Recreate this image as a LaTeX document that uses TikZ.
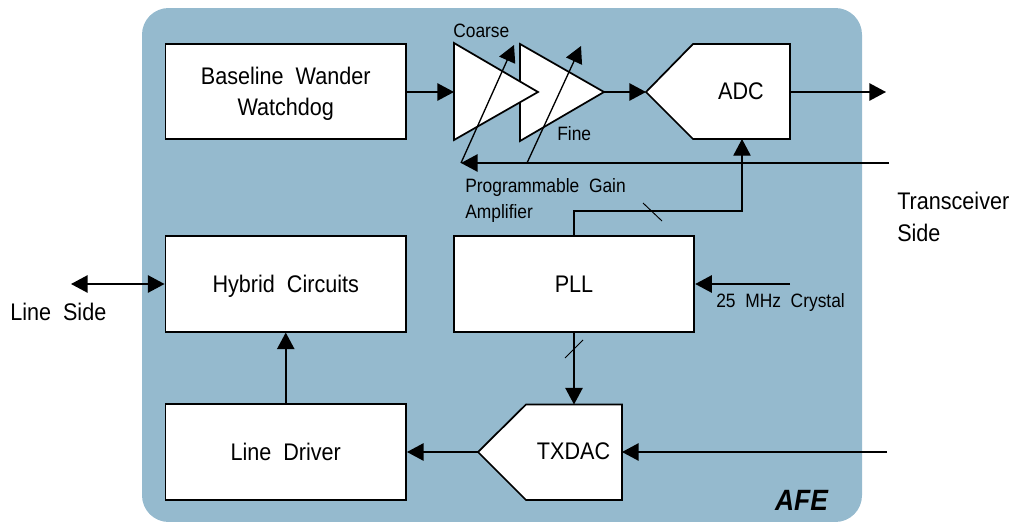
\documentclass[tikz,border=0pt]{standalone}
\usepackage{fontspec}
\setmainfont[FakeStretch=0.9]{Liberation Sans}
\usepackage{xcolor}
\usetikzlibrary{positioning,calc,arrows.meta}
\definecolor{afeblue}{HTML}{95BACE}
\tikzset{
    block/.style={draw=black,fill=white,line width=1.3pt,line join=miter},
    boxnode/.style={block,minimum width=180.5pt,minimum height=71.5pt,inner sep=0pt,align=center,text depth=0pt,font=\fontsize{18}{23.3}\selectfont},
    sig/.style={line width=1.3pt,-{Triangle[length=12.5pt,width=13pt]}},
    sigboth/.style={line width=1.3pt,{Triangle[length=12.5pt,width=13pt]}-{Triangle[length=12.5pt,width=13pt]}},
    clk/.style={line width=0.9pt,-{Triangle[length=12.5pt,width=13pt]}},
    tick/.style={line width=0.7pt},
    blocktext/.style={inner sep=0pt,font=\fontsize{18}{20}\selectfont},
    smalltext/.style={inner sep=0pt,anchor=west,align=left,font=\fontsize{14.5}{19.5}\selectfont},
    sidetext/.style={inner sep=0pt,anchor=west,align=left,font=\fontsize{18}{24}\selectfont},
}
\begin{document}
\begin{tikzpicture}[x=0.75pt,y=-0.75pt]
    \useasboundingbox (0,0) rectangle (1013,521);

    % AFE background
    \fill[afeblue,rounded corners=20pt] (142,8) rectangle (862,522);
    \node[inner sep=0pt,font=\fontsize{22}{24}\selectfont\bfseries\itshape] (afe) at (801.5,500) {AFE};

    % Boxes
    \node[boxnode] (wander) at (285.75,91.5) {Baseline\ \ Wander\\Watchdog};
    \node[boxnode] (hybrid) at (285.75,284) {Hybrid\ \ Circuits};
    \node[boxnode] (pll) at (574,284) {PLL};
    \node[boxnode] (driver) at (285.75,452) {Line\ \ Driver};

    % Amplifier stages
    \draw[block] (520,44) -- (604,92) coordinate (fineout) -- (520,141) -- cycle;
    \draw[block] (454,43) coordinate (coarsetop) -- (538,92) coordinate (coarseout) -- (454,140) -- cycle;
    \coordinate (coarsein) at (454,92);

    % Converters
    \draw[block] (646,92) coordinate (adcin) -- (693,44) -- (790,44) -- (790,92) coordinate (adcout) -- (790,139) coordinate (adcbr) -- (693,139) -- cycle;
    \node[blocktext] (adc) at (741,91) {ADC};
    \coordinate (adcclk) at (742,139);
    \draw[block] (478,452) coordinate (dacout) -- (526,404.5) -- (574,404.5) coordinate (dacclk) -- (622,404.5) -- (622,452) coordinate (dacin) -- (622,500) -- (526,500) -- cycle;
    \node[blocktext] (dac) at (573.5,451) {TXDAC};

    % Free ends
    \coordinate (adcfree) at (886,92);
    \coordinate (gainfree) at (889,163);
    \coordinate (gainend) at (461,163);
    \coordinate (finefoot) at (527,163);
    \coordinate (coarsetip) at (514,45);
    \coordinate (finetip) at (581,46);
    \coordinate (xtal) at (790,284);
    \coordinate (linefree) at (71,284);
    \coordinate (dacfree) at (887,452);

    % Signal path
    \draw[sig] (wander.east |- coarsein) -- (coarsein);
    \draw[sig] (fineout) -- (adcin);
    \draw[sig] (adcout) -- (adcfree);
    \draw[sig] (gainfree) -- (gainend);
    \draw[sig,line width=1pt] (gainend) -- (coarsetip);
    \draw[sig,line width=1pt] (finefoot) -- (finetip);
    \draw[sigboth] (linefree) -- (hybrid.west);
    \draw[sig] (driver.north) -- (hybrid.south);
    \draw[sig] (xtal) -- (pll.east);
    \draw[sig] (pll.south) -- (pll.south |- dacclk);
    \draw[sig] (dacin -| dacfree) -- (dacin);
    \draw[sig] (dacout) -- (driver.east |- dacout);

    % Clock from PLL
    \draw[clk] (pll.north) |- (574,211) -| (adcclk);
    \draw[tick] (643,203) -- (662,221);
    \draw[tick] (565,358) -- (583,340);

    % Labels
    \node[smalltext] (coarselabel) at (453,31) {Coarse};
    \node[smalltext] (finelabel) at (557,134) {Fine};
    \node[smalltext,anchor=north west] (pgalabel) at (465,178) {Programmable\ \ Gain\\Amplifier};
    \node[smalltext] (xtallabel) at (716,302.5) {25\ \ MHz\ \ Crystal};
    \node[sidetext] (linelabel) at (10,312) {Line\ \ Side};
    \node[sidetext,anchor=north west] (sidelabel) at (897,192) {Transceiver\\Side};
\end{tikzpicture}
\end{document}
